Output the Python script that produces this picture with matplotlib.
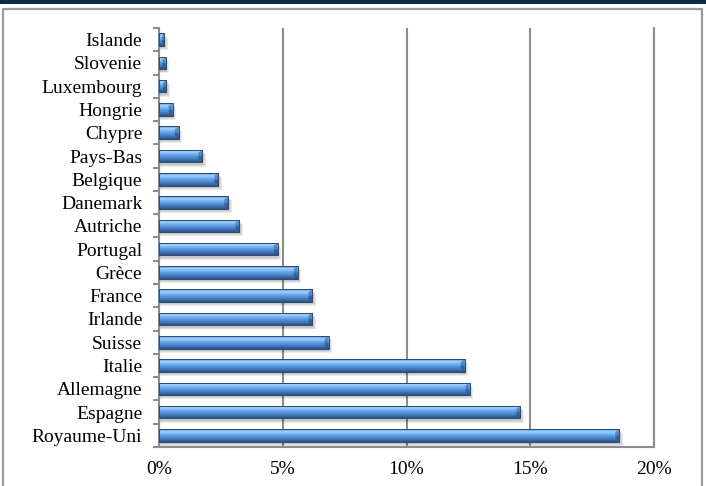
import numpy as np
import matplotlib
matplotlib.use("Agg")
import matplotlib.pyplot as plt
from matplotlib.colors import LinearSegmentedColormap
from matplotlib.patches import Rectangle, Polygon
from matplotlib.ticker import FixedLocator, NullFormatter, FixedFormatter

# share by country, bottom to top
countries = ["Royaume-Uni", "Espagne", "Allemagne", "Italie", "Suisse", "Irlande",
             "France", "Grèce", "Portugal", "Autriche", "Danemark", "Belgique",
             "Pays-Bas", "Chypre", "Hongrie", "Luxembourg", "Slovenie", "Islande"]
shares = [18.6, 14.6, 12.55, 12.35, 6.85, 6.2,
          6.2, 5.6, 4.8, 3.25, 2.8, 2.4,
          1.75, 0.8, 0.55, 0.3, 0.27, 0.22]
xticks = [0, 5, 10, 15, 20]
xlabels = ["0%", "5%", "10%", "15%", "20%"]

plt.rcParams["font.family"] = ["Liberation Serif", "DejaVu Serif"]

fig = plt.figure(figsize=(7.06, 4.86), dpi=100)
ax = fig.add_axes([159 / 706, 39 / 486, 495 / 706, 419 / 486])

# header strip and frame around the chart
fig.patches.append(Rectangle((0, 1 - 4.5 / 486), 1, 4.5 / 486, transform=fig.transFigure,
                             facecolor="#0c2a4a", edgecolor="none"))
fig.lines.append(plt.Line2D([3 / 706, 3 / 706, 702 / 706, 702 / 706],
                            [0, 1 - 9.5 / 486, 1 - 9.5 / 486, 0],
                            transform=fig.transFigure, color="#9a9a9a", lw=1.6))

bar_h = 0.54
y = np.arange(len(countries))

grad = LinearSegmentedColormap.from_list("bevel", [
    (0.00, "#2b4f80"), (0.12, "#3a65a0"), (0.30, "#4a84c9"), (0.50, "#5f9fe5"),
    (0.66, "#7fbbf3"), (0.80, "#a2d3fa"), (0.90, "#7db6ec"), (1.00, "#3f72b3")])
grad_img = np.linspace(0, 1, 64).reshape(-1, 1)

# soft drop shadow
for k in range(3):
    grow = 0.04 * k
    for yi, v in zip(y, shares):
        ax.add_patch(Rectangle((0, yi - bar_h / 2 - 0.1 - grow), v + 0.06 + grow, bar_h,
                               facecolor="#000000", alpha=0.08, edgecolor="none", zorder=2))

bars = ax.barh(y, shares, height=bar_h, color="#5f9fe5", edgecolor="none", zorder=3)
for rect, v in zip(bars, shares):
    y0 = rect.get_y()
    im = ax.imshow(grad_img, cmap=grad, origin="lower", aspect="auto",
                   extent=(0, v, y0, y0 + bar_h), zorder=3.5, interpolation="bilinear")
    im.set_clip_path(rect)
    # bevelled right end
    cap = min(0.16, v * 0.45)
    ax.add_patch(Polygon([(v - cap, y0 + 0.12), (v, y0), (v, y0 + bar_h / 2),
                          (v - cap, y0 + bar_h / 2)], closed=True,
                         facecolor="#2c5a93", edgecolor="none", alpha=0.8, zorder=4))
    ax.add_patch(Polygon([(v - cap, y0 + bar_h / 2), (v, y0 + bar_h / 2), (v, y0 + bar_h),
                          (v - cap, y0 + bar_h - 0.12)], closed=True,
                         facecolor="#3f74b5", edgecolor="none", alpha=0.7, zorder=4))
    ax.add_patch(Rectangle((0, y0), v, bar_h, facecolor="none",
                           edgecolor="#254a7a", lw=0.7, zorder=4.5))

ax.set_xlim(0, 20)
ax.set_ylim(-0.5, len(countries) - 0.5)

ax.set_xticks(xticks)
ax.set_xticklabels(xlabels, fontsize=14)
ax.tick_params(axis="x", length=0, pad=10)

# category labels centred, tick marks between categories
ax.yaxis.set_major_locator(FixedLocator(np.arange(-0.5, len(countries), 1.0)))
ax.yaxis.set_major_formatter(NullFormatter())
ax.yaxis.set_minor_locator(FixedLocator(y))
ax.yaxis.set_minor_formatter(FixedFormatter(countries))
ax.tick_params(axis="y", which="major", length=4, width=1.5, color="#8c8c8c", direction="out")
ax.tick_params(axis="y", which="minor", length=0, pad=12, labelsize=14)

ax.grid(axis="x", color="#8c8c8c", lw=1.5, zorder=1)
ax.set_axisbelow(True)
for side in ["left", "bottom", "right"]:
    ax.spines[side].set_color("#8c8c8c")
    ax.spines[side].set_linewidth(1.5)
ax.spines["top"].set_visible(False)

fig.savefig("out.png", dpi=100)
